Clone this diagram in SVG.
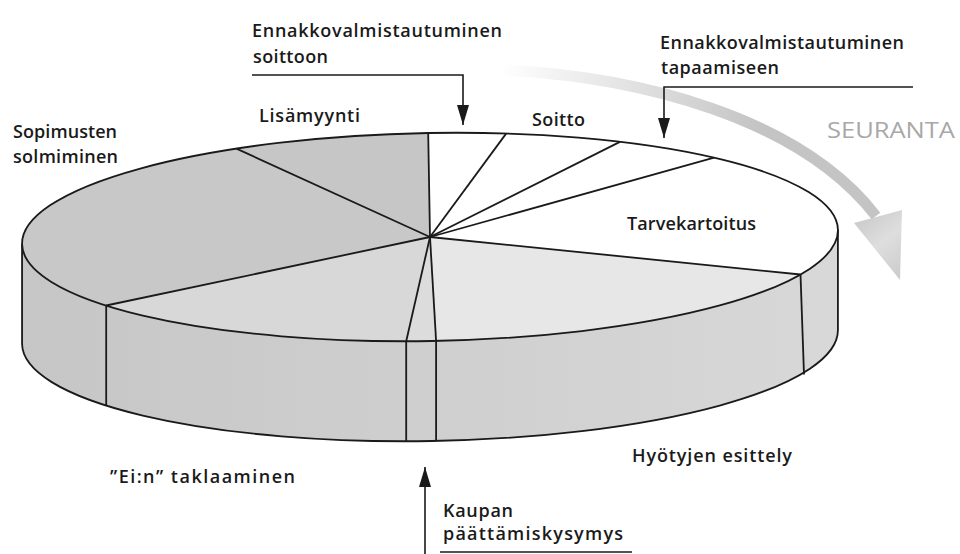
<svg xmlns="http://www.w3.org/2000/svg" width="960" height="554" viewBox="0 0 960 554">
<style>
.lbl{font-family:"Open Sans","Liberation Sans",sans-serif;font-weight:600;font-size:18px;fill:#1a1a1a}
.seu{font-family:"Open Sans","Liberation Sans",sans-serif;font-weight:400;font-size:22px;fill:#a8a8a8}
.edge{fill:none;stroke:#1a1a1a;stroke-width:1.8;stroke-linejoin:round}
.conn{fill:none;stroke:#1a1a1a;stroke-width:1.6}
.slice{stroke:none}
</style>
<defs>
<marker id="ah" viewBox="0 0 20 12" refX="20" refY="6" markerWidth="20" markerHeight="12" markerUnits="userSpaceOnUse" orient="auto">
<path d="M0,0 L20,6 L0,12 Z" fill="#1a1a1a"/>
</marker>
<linearGradient id="sideG" gradientUnits="userSpaceOnUse" x1="22" y1="0" x2="838" y2="0">
<stop offset="0" stop-color="#c6c6c6"/>
<stop offset="0.5" stop-color="#cfcfcf"/>
<stop offset="1" stop-color="#d8d8d8"/>
</linearGradient>
<linearGradient id="seuG" gradientUnits="userSpaceOnUse" x1="500" y1="70" x2="760" y2="120">
<stop offset="0" stop-color="#ffffff"/>
<stop offset="1" stop-color="#c4c4c4"/>
</linearGradient>
<linearGradient id="headG" gradientUnits="userSpaceOnUse" x1="855" y1="215" x2="902" y2="275">
<stop offset="0" stop-color="#c8c8c8"/>
<stop offset="0.5" stop-color="#dedede"/>
<stop offset="1" stop-color="#cccccc"/>
</linearGradient>
</defs>
<rect width="960" height="554" fill="#ffffff"/>

<g id="seuranta-arrow">
<path d="M500,70 C640,76 800,118 876,216" fill="none" stroke="url(#seuG)" stroke-width="11"/>
<polygon points="854,223 902,210 900,280" fill="url(#headG)"/>
</g>

<g id="pie">
<g id="side">
<path d="M837.9,229.9 A408,104 -1 0 1 431.8,341 A408,104 -1 0 1 22.06,244.1 L22.06,344.1 A408,104 -1 0 0 431.8,441 A408,104 -1 0 0 837.9,329.9 Z" fill="url(#sideG)"/>
<path class="edge" d="M22.06,244.1 L22.06,344.1 A408,104 -1 0 0 431.8,441 A408,104 -1 0 0 837.9,329.9 L837.9,229.9"/>
<line class="edge" x1="106.2" y1="305.5" x2="106.2" y2="405.5"/>
<line class="edge" x1="406.2" y1="341.2" x2="406.2" y2="441.2"/>
<line class="edge" x1="436.1" y1="340.9" x2="436.1" y2="440.9"/>
<line class="edge" x1="800.5" y1="274.5" x2="804" y2="374.5"/>
</g>
<g id="top">
<ellipse cx="430" cy="237" rx="408" ry="104" transform="rotate(-1 430 237)" fill="#ffffff"/>
<path id="slice-lisamyynti" class="slice" d="M430,237 L236.4,148.6 A408,104 -1 0 1 428.2,133 Z" fill="#c6c6c6"/>
<path id="slice-sopimusten" class="slice" d="M430,237 L106.2,305.5 A408,104 -1 0 1 236.4,148.6 Z" fill="#c8c8c8"/>
<path id="slice-ein" class="slice" d="M430,237 L406.2,341.2 A408,104 -1 0 1 106.2,305.5 Z" fill="#d8d8d8"/>
<path id="slice-kaupan" class="slice" d="M430,237 L436.1,340.9 A408,104 -1 0 1 406.2,341.2 Z" fill="#dcdcdc"/>
<path id="slice-hyotyjen" class="slice" d="M430,237 L800.5,274.5 A408,104 -1 0 1 436.1,340.9 Z" fill="#e7e7e7"/>
<ellipse class="edge" cx="430" cy="237" rx="408" ry="104" transform="rotate(-1 430 237)"/>
<g class="edge">
<line x1="430" y1="237" x2="428.2" y2="133"/>
<line x1="430" y1="237" x2="236.4" y2="148.6"/>
<line x1="430" y1="237" x2="106.2" y2="305.5"/>
<line x1="430" y1="237" x2="406.2" y2="341.2"/>
<line x1="430" y1="237" x2="436.1" y2="340.9"/>
<line x1="430" y1="237" x2="800.5" y2="274.5"/>
<line x1="430" y1="237" x2="714.1" y2="157.7"/>
<line x1="430" y1="237" x2="619.9" y2="141.9"/>
<line x1="430" y1="237" x2="506.1" y2="133.6"/>
</g>
</g>
</g>

<g id="connectors">
<path class="conn" d="M252,75 L463,75 L463,125" marker-end="url(#ah)"/>
<path class="conn" d="M913,87 L664,87 L664,138" marker-end="url(#ah)"/>
<path class="conn" d="M425,554 L425,467" marker-end="url(#ah)"/>
<line class="conn" x1="440" y1="552" x2="632" y2="552"/>
</g>

<g id="label-ennakko-soitto">
<text class="lbl" x="252" y="37" textLength="250">Ennakkovalmistautuminen</text>
<text class="lbl" x="253" y="63" textLength="75">soittoon</text>
</g>
<g id="label-ennakko-tapaaminen">
<text class="lbl" x="660" y="49" textLength="244">Ennakkovalmistautuminen</text>
<text class="lbl" x="661" y="74" textLength="118">tapaamiseen</text>
</g>
<g id="label-lisamyynti"><text class="lbl" x="259" y="122" textLength="101">Lisämyynti</text></g>
<g id="label-sopimusten">
<text class="lbl" x="13" y="138" textLength="104">Sopimusten</text>
<text class="lbl" x="13" y="163" textLength="105">solmiminen</text>
</g>
<g id="label-soitto"><text class="lbl" x="532" y="126" textLength="53">Soitto</text></g>
<g id="label-seuranta"><text class="seu" x="827" y="138" textLength="128" lengthAdjust="spacingAndGlyphs">SEURANTA</text></g>
<g id="label-tarvekartoitus"><text class="lbl" x="627" y="230" textLength="129">Tarvekartoitus</text></g>
<g id="label-hyotyjen"><text class="lbl" x="632" y="462" textLength="160">Hyötyjen esittely</text></g>
<g id="label-ein"><text class="lbl" x="110" y="483" textLength="185">”Ei:n” taklaaminen</text></g>
<g id="label-kaupan">
<text class="lbl" x="443" y="517" textLength="70">Kaupan</text>
<text class="lbl" x="443" y="540" textLength="180">päättämiskysymys</text>
</g>
</svg>
